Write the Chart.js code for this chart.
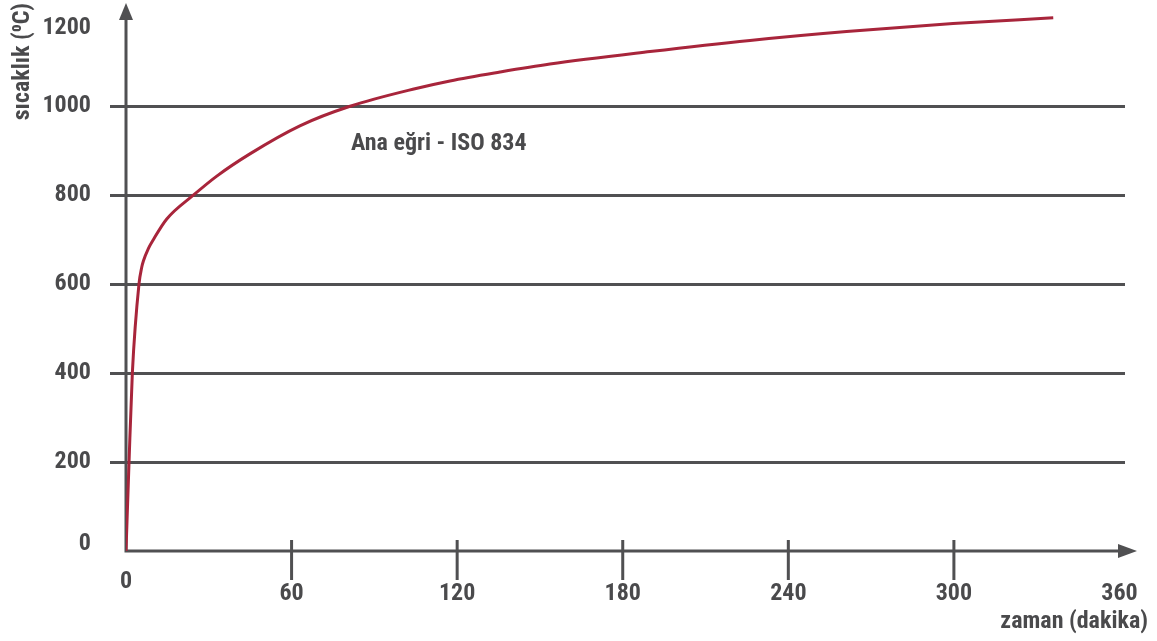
<!DOCTYPE html>
<html>
<head>
<meta charset="utf-8">
<script src="https://cdn.jsdelivr.net/npm/chart.js@4.4.1/dist/chart.umd.min.js"></script>
<style>
  html, body { margin: 0; padding: 0; background: #fff; }
  canvas { display: block; }
</style>
</head>
<body>
<canvas id="chart" width="1157" height="641"></canvas>
<script>
// ISO 834 yangın eğrisi
const zaman = [0, 1.1, 2.3, 4.7, 5.7, 6.3, 8.1, 9.9, 14.7, 24.4, 32.9, 44.9, 63, 81.2, 105.1, 117.4, 135.5, 153.6, 189.9, 226.1, 261.1, 299.7, 336];
const sicaklik = [0, 200, 400, 600, 638, 652, 680, 700, 746, 800, 843, 893, 956, 1000, 1040, 1057, 1077, 1095, 1123, 1148, 1168, 1186, 1199];
const xTicks = [0, 60, 120, 180, 240, 300, 360];
const yTicks = [0, 200, 400, 600, 800, 1000, 1200];
const etiket = 'Ana eğri - ISO 834';
const xBaslik = 'zaman (dakika)';
const yBaslik = 'sıcaklık (⁰C)';

const gri = '#505052';
const yaziRengi = '#4a4a4c';
const kirmizi = '#a8253b';
const yazi = "'Roboto Condensed', 'Liberation Sans Narrow', 'DejaVu Sans Condensed', sans-serif";
const boyut = 24;

const eksenler = {
    id: 'eksenler',
    beforeDatasetsDraw(chart) {
        const {ctx, scales: {x, y}} = chart;
        const x0 = x.getPixelForValue(0);
        const y0 = y.getPixelForValue(0);
        ctx.save();
        ctx.strokeStyle = gri;
        ctx.fillStyle = gri;
        ctx.lineWidth = 3;
        ctx.beginPath();
        // eksen çizgileri
        ctx.moveTo(x0, y0 + 1.5);
        ctx.lineTo(x0, 18);
        ctx.moveTo(x0 - 1.5, y0);
        ctx.lineTo(1120, y0);
        // x tick çizgileri
        xTicks.slice(1, -1).forEach(v => {
            const px = x.getPixelForValue(v);
            ctx.moveTo(px, y0 - 11);
            ctx.lineTo(px, y0 + 29);
        });
        ctx.stroke();
        // oklar
        ctx.beginPath();
        ctx.moveTo(x0, 3);
        ctx.lineTo(x0 - 7, 20);
        ctx.lineTo(x0 + 7, 20);
        ctx.closePath();
        ctx.fill();
        ctx.beginPath();
        ctx.moveTo(1137, y0);
        ctx.lineTo(1118, y0 - 7);
        ctx.lineTo(1118, y0 + 7);
        ctx.closePath();
        ctx.fill();
        ctx.restore();
    },
    afterDraw(chart) {
        const ctx = chart.ctx;
        ctx.save();
        ctx.fillStyle = yaziRengi;
        ctx.font = "bold " + boyut + "px " + yazi;
        ctx.textBaseline = 'alphabetic';
        ctx.textAlign = 'left';
        ctx.fillText(etiket, 351, 150);
        ctx.textAlign = 'right';
        ctx.fillText(xBaslik, 1148, 628);
        ctx.translate(29, 3);
        ctx.rotate(-Math.PI / 2);
        ctx.textAlign = 'right';
        ctx.fillText(yBaslik, 0, 0);
        ctx.restore();
    }
};

new Chart(document.getElementById('chart'), {
    type: 'line',
    data: {
        datasets: [{
            label: etiket,
            data: zaman.map((t, i) => ({x: t, y: sicaklik[i]})),
            borderColor: kirmizi,
            borderWidth: 3,
            pointRadius: 0,
            fill: false,
            cubicInterpolationMode: 'monotone'
        }]
    },
    options: {
        responsive: false,
        animation: false,
        layout: { padding: { top: 4, right: 32, left: 0, bottom: 0 } },
        plugins: {
            legend: { display: false },
            tooltip: { enabled: false }
        },
        scales: {
            x: {
                type: 'linear',
                min: 0,
                max: 362,
                afterBuildTicks: s => { s.ticks = xTicks.map(v => ({value: v})); },
                afterFit: s => {
                    s.height = 90;
                    s.paddingLeft = 0;
                    s.paddingRight = 0;
                },
                grid: { display: false },
                border: { display: false },
                ticks: {
                    color: yaziRengi,
                    padding: 11,
                    maxRotation: 0,
                    autoSkip: false,
                    font: c => ({
                        family: yazi, size: boyut, weight: 'bold',
                        lineHeight: c.tick && c.tick.value === 0 ? 1 : 2
                    })
                }
            },
            y: {
                min: 0,
                max: 1230,
                afterBuildTicks: s => { s.ticks = yTicks.map(v => ({value: v})); },
                afterFit: s => {
                    s.width = 126;
                    s.paddingTop = 0;
                    s.paddingBottom = 0;
                },
                border: { display: false },
                grid: {
                    color: c => (c.tick && (c.tick.value === 0 || c.tick.value === 1200)) ? 'rgba(0,0,0,0)' : gri,
                    lineWidth: 3,
                    drawTicks: true,
                    tickLength: 16
                },
                ticks: {
                    color: yaziRengi,
                    padding: 19,
                    callback: v => v === 0 ? ['0', ''] : (v === 1200 ? ['', '1200'] : String(v)),
                    font: c => ({
                        family: yazi, size: boyut, weight: 'bold',
                        lineHeight: c.tick && c.tick.value === 0 ? 0.55 : (c.tick && c.tick.value === 1200 ? 0.85 : 1.2)
                    })
                }
            }
        }
    },
    plugins: [eksenler]
});
</script>
</body>
</html>
